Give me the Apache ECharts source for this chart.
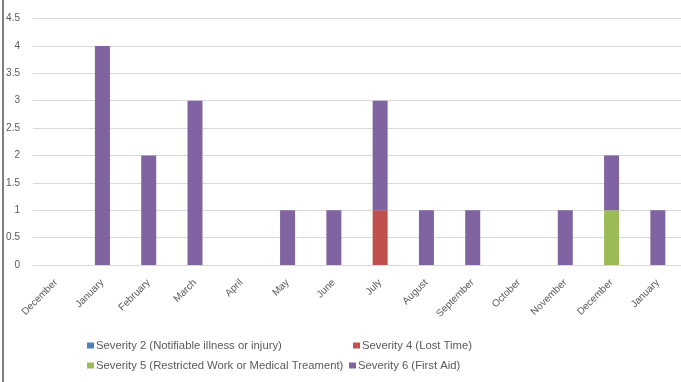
<!DOCTYPE html>
<html><head><meta charset="utf-8">
<script src="https://cdn.jsdelivr.net/npm/echarts@6/dist/echarts.min.js"></script>
<style>html,body{margin:0;padding:0;background:#fff}#c{width:681px;height:382px}</style>
</head><body><div id="c"></div>
<script>
const categories = ['December','January','February','March','April','May','June','July','August','September','October','November','December','January'];
const yTicks = [0, 0.5, 1, 1.5, 2, 2.5, 3, 3.5, 4, 4.5];
const seriesNames = ['Severity 2 (Notifiable illness or injury)','Severity 4 (Lost Time)','Severity 5 (Restricted Work or Medical Treament)','Severity 6 (First Aid)'];
const sev2 = [0,0,0,0,0,0,0,0,0,0,0,0,0,0];
const sev4 = [0,0,0,0,0,0,0,1,0,0,0,0,0,0];
const sev5 = [0,0,0,0,0,0,0,0,0,0,0,0,1,0];
const sev6 = [0,4,2,3,0,1,1,2,1,1,0,1,1,1];
const colors = ['#4F81BD','#C0504D','#9BBB59','#8064A2'];

const font = 'Liberation Sans';
const chart = echarts.init(document.getElementById('c'));
const mk = (name, data, color) => ({
  name, type: 'bar', stack: 's', data, barWidth: 15,
  itemStyle: { color }, emphasis: { disabled: true }
});
const legendPos = [[87,340],[353,340],[87,360],[349,360]];
const legends = seriesNames.map((n,i) => ({
  data: [n], left: legendPos[i][0], top: legendPos[i][1], padding: 0,
  itemWidth: 7, itemHeight: 6, itemGap: 0, icon: 'rect',
  textStyle: { fontFamily: font, fontSize: 11.3, color: '#595959', padding: [0,0,0,-3] }
}));
chart.setOption({
  animation: false,
  grid: { left: 33, right: -7, top: 18.5, bottom: 117, containLabel: false },
  legend: legends,
  xAxis: {
    type: 'category', data: categories,
    axisLine: { lineStyle: { color: '#d9d9d9' } },
    axisTick: { show: false },
    axisLabel: { rotate: 45, interval: 0, fontFamily: font, fontSize: 10, color: '#595959', margin: 16 }
  },
  yAxis: {
    type: 'value', min: yTicks[0], max: yTicks[yTicks.length-1], interval: 0.5,
    axisLine: { show: false }, axisTick: { show: false },
    splitLine: { lineStyle: { color: '#d9d9d9' } },
    axisLabel: { fontFamily: font, fontSize: 10, color: '#595959', margin: 13 }
  },
  series: [mk(seriesNames[0], sev2, colors[0]), mk(seriesNames[1], sev4, colors[1]), mk(seriesNames[2], sev5, colors[2]), mk(seriesNames[3], sev6, colors[3])],
  graphic: [{ type: 'rect', shape: { x: 2, y: 0, width: 2, height: 382 }, style: { fill: '#7f7f7f' } }]
});
</script></body></html>
